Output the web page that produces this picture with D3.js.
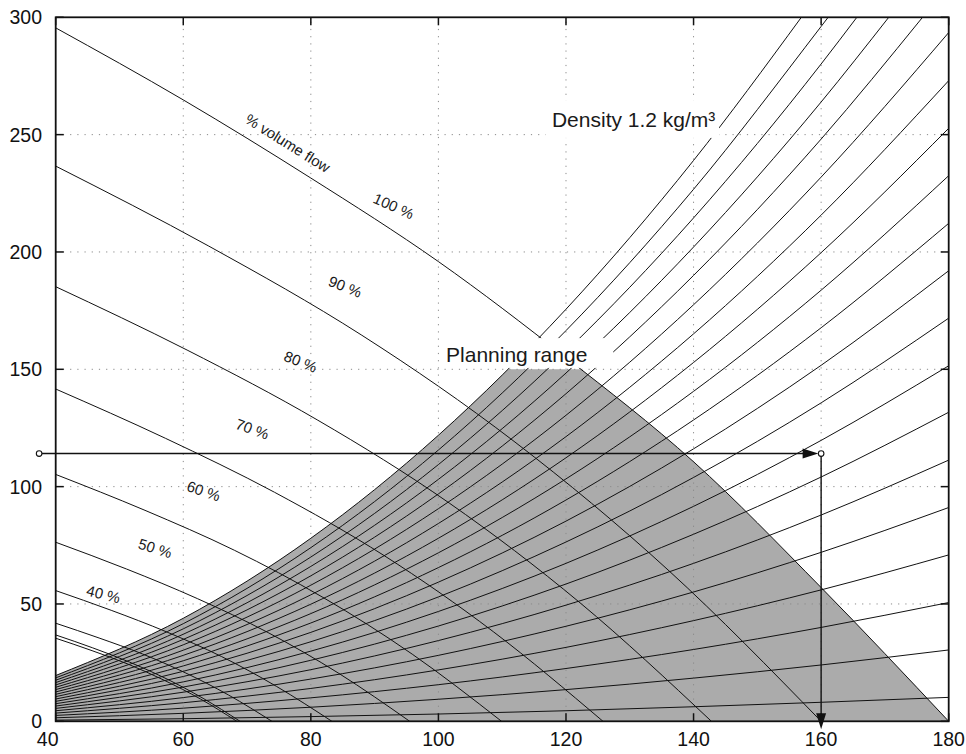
<!DOCTYPE html>
<html><head><meta charset="utf-8">
<script src="https://cdn.jsdelivr.net/npm/d3@7"></script>
<style>
body{margin:0;background:#fff;}
svg{display:block;font-family:"Liberation Sans",Arial,Helvetica,sans-serif;}
</style>
</head><body>
<svg id="chart" width="966" height="754"></svg>
<script>
// ---------------- data ----------------
const xTicks = [40, 60, 80, 100, 120, 140, 160, 180];
const yTicks = [0, 50, 100, 150, 200, 250, 300];

// descending "% volume flow" curves  [x, pressure]
const flowLabels = ["100 %", "90 %", "80 %", "70 %", "60 %", "50 %", "40 %", "30 %", "20 %", "10 %"];
const flow100 = [[40,295.5],[60,264.8],[80,231.5],[100,195.9],[120,155],[140,110.6],[160,57],[180,0]];
const flow90  = [[40,236.6],[64,202.5],[88,164.5],[112,119],[136,64.5],[160,0]];
const flow80  = [[40,185.2],[60.6,158.2],[81.1,128.3],[101.7,93],[122.2,50.5],[142.8,0]];
const flow70  = [[40,141.6],[57.2,120.6],[74.3,97.6],[91.5,70.6],[108.6,38.2],[125.8,0]];
const flow60  = [[40,105.2],[54,89.9],[68,72.9],[81.9,52.8],[95.9,28.6],[109.9,0]];
const flow50  = [[40,76.3],[51.1,64.9],[62.2,52.3],[73.3,37.8],[84.4,20.4],[95.5,0]];
const flow40  = [[40,55.7],[48.7,47.3],[57.3,38.2],[66,27.6],[74.6,14.9],[83.3,0]];
const flow30  = [[40,41.8],[46.8,35.5],[53.6,28.7],[60.3,20.7],[67.1,11.2],[73.9,0]];
const flow20  = [[40,36.8],[45.8,31.3],[51.6,25.2],[57.3,18.2],[63.1,9.8],[68.9,0]];
const flow10  = [[40,35.4],[45.7,30.1],[51.4,24.3],[57,17.5],[62.7,9.5],[68.4,0]];
const flowCurves = [flow100, flow90, flow80, flow70, flow60, flow50, flow40, flow30, flow20, flow10];

// rising system curves [x, pressure]
const systemCurves = [
 [[40,0.5],[60,1.1],[80,2.0],[100,3.1],[120,4.5],[140,6.2],[160,8.1],[180,10.2]],
 [[40,1.5],[60,3.4],[80,6.0],[100,9.4],[120,13.5],[140,18.4],[160,24.0],[180,30.4]],
 [[40,2.5],[60,5.6],[80,10.0],[100,15.6],[120,22.5],[140,30.6],[160,40.0],[180,50.6]],
 [[40,3.5],[60,7.9],[80,14.0],[100,21.9],[120,31.5],[140,42.9],[160,56.0],[180,70.9]],
 [[40,4.5],[60,10.1],[80,18.0],[100,28.1],[120,40.5],[140,55.1],[160,72.0],[180,91.1]],
 [[40,5.5],[60,12.4],[80,22.0],[100,34.4],[120,49.5],[140,67.3],[160,87.9],[180,111.3]],
 [[40,6.5],[60,14.6],[80,26.0],[100,40.6],[120,58.5],[140,79.7],[160,104.1],[180,131.7]],
 [[40,7.5],[60,16.8],[80,29.9],[100,46.8],[120,67.3],[140,91.6],[160,119.7],[180,151.5]],
 [[40,8.5],[60,19.1],[80,33.9],[100,53.0],[120,76.4],[140,103.9],[160,135.7],[180,171.8]],
 [[40,9.5],[60,21.3],[80,37.9],[100,59.3],[120,85.3],[140,116.1],[160,151.7],[180,192.0]],
 [[40,10.5],[60,23.6],[80,41.9],[100,65.5],[120,94.3],[140,128.4],[160,167.7],[180,212.2]],
 [[40,11.5],[60,25.8],[80,45.9],[100,71.8],[120,103.3],[140,140.6],[160,183.7],[180,232.5]],
 [[40,12.5],[60,28.1],[80,49.9],[100,78.0],[120,112.3],[140,152.9],[160,199.7],[180,252.7]],
 [[40,13.5],[60,30.3],[80,53.9],[100,84.3],[120,121.3],[140,165.1],[160,215.7],[180,273.0]],
 [[40,14.5],[60,32.6],[80,58.0],[100,90.6],[120,130.4],[140,177.5],[160,231.9],[180,293.5]],
 [[40,15.5],[60,34.9],[80,62.0],[100,96.9],[120,139.6],[140,190.0],[160,248.1],[175.9,300]],
 [[40,16.5],[60,37.1],[80,66.0],[100,103.1],[120,148.4],[140,202.1],[160,263.9],[170.6,300]],
 [[40,17.5],[60,39.4],[80,70.0],[100,109.4],[120,157.6],[140,214.5],[160,280.1],[165.6,300]],
 [[40,18.5],[60,41.6],[80,74.0],[100,115.6],[120,166.5],[140,226.7],[160,296.1],[161.1,300]],
 [[40,19.5],[60,43.9],[80,78.0],[100,121.9],[120,175.6],[140,239.0],[156.9,300]]
];

const planningRangeMax = 150;       // pressure cap of planning range
const designPoint = [160, 114.1];   // operating point
const designStartX = 37.4;          // start of the reading line
const titleDensity = "Density 1.2 kg/m\u00B3";
const titlePlanning = "Planning range";
const titleFlow = "% volume flow";

// ---------------- layout ----------------
const M = {left:55.7, right:948.7, top:17.3, bottom:721.3};
const x = d3.scaleLinear().domain([40,180]).range([M.left, M.right]);
const y = d3.scaleLinear().domain([0,300]).range([M.bottom, M.top]);
const svg = d3.select("#chart");
svg.append("rect").attr("width",966).attr("height",754).attr("fill","#fff");
const defs = svg.append("defs");

defs.append("clipPath").attr("id","plotClip").append("rect")
  .attr("x",M.left).attr("y",M.top).attr("width",M.right-M.left).attr("height",M.bottom-M.top);

const line = d3.line().x(d=>x(d[0])).y(d=>y(d[1])).curve(d3.curveMonotoneX);
const areaUnder = d3.area().x(d=>x(d[0])).y0(y(0)).y1(d=>y(d[1])).curve(d3.curveMonotoneX);

// planning range = below top system curve, below cap, below 100% curve
const topSys = systemCurves[systemCurves.length-1].concat([[180,300]]);
defs.append("clipPath").attr("id","underTop").append("path").attr("d", areaUnder(topSys));
defs.append("clipPath").attr("id","underCap").append("rect")
  .attr("x",M.left).attr("y",y(planningRangeMax)).attr("width",M.right-M.left)
  .attr("height",y(0)-y(planningRangeMax));

svg.append("g").attr("clip-path","url(#underTop)")
  .append("g").attr("clip-path","url(#underCap)")
  .append("path").attr("d", areaUnder(flowCurves[0])).attr("fill","#ababab");

// grid
const grid = svg.append("g").attr("stroke","#8a8a8a").attr("stroke-width",1).attr("stroke-dasharray","1.2,6");
xTicks.slice(1,-1).forEach(t=>{
  grid.append("line").attr("x1",x(t)).attr("x2",x(t)).attr("y1",y(0)).attr("y2",y(300));
});
yTicks.slice(1,-1).forEach(t=>{
  grid.append("line").attr("y1",y(t)).attr("y2",y(t)).attr("x1",x(40)).attr("x2",x(180));
});

// curves
const curves = svg.append("g").attr("clip-path","url(#plotClip)")
  .attr("fill","none").attr("stroke","#111").attr("stroke-width",1);
systemCurves.forEach(c=>curves.append("path").attr("d", line(c)));
flowCurves.forEach(c=>curves.append("path").attr("d", line(c)));

// annotation boxes + texts
function boxText(txt, tx, ty, bx0, bx1, by0, by1){
  svg.append("rect").attr("x",x(bx0)).attr("y",y(by1))
    .attr("width",x(bx1)-x(bx0)).attr("height",y(by0)-y(by1)).attr("fill","#fff");
  svg.append("text").attr("x",x(tx)).attr("y",y(ty)).attr("font-size",21)
    .attr("fill","#1a1a1a").text(txt);
}
boxText(titlePlanning, 101.2, 153.1, 100.6, 127.4, 150.6, 163.3);
boxText(titleDensity, 117.8, 253.2, 116.8, 144.0, 248.6, 264.4);

// curve labels
const labelPlaces = [
  [titleFlow, 76.4, 246.4, 32],
  [flowLabels[0], 93.0, 219.6, 24],
  [flowLabels[1], 85.4, 185.3, 22],
  [flowLabels[2], 78.4, 153.3, 22],
  [flowLabels[3], 70.85, 124.6, 20],
  [flowLabels[4], 63.2, 98.2, 19],
  [flowLabels[5], 55.6, 73.8, 17],
  [flowLabels[6], 47.5, 54.2, 14]
];
labelPlaces.forEach(([t,lx,ly,a])=>{
  const cx=x(lx), cy=y(ly);
  svg.append("text").attr("x",cx).attr("y",cy).attr("text-anchor","middle")
    .attr("dominant-baseline","central").attr("font-size",15).attr("fill","#1a1a1a")
    .attr("transform",`rotate(${a},${cx},${cy})`).text(t);
});

// reading arrows
const px = x(designPoint[0]), py = y(designPoint[1]);
const arr = svg.append("g");
arr.append("line").attr("x1",x(designStartX)).attr("x2",px-18).attr("y1",py).attr("y2",py)
  .attr("stroke","#111").attr("stroke-width",1.4);
arr.append("path").attr("d",`M${px-2.8},${py} L${px-18.5},${py-5} L${px-18.5},${py+5} Z`).attr("fill","#111");
arr.append("line").attr("x1",px).attr("x2",px).attr("y1",py).attr("y2",y(0)-6)
  .attr("stroke","#111").attr("stroke-width",1.4);
arr.append("path").attr("d",`M${px},${y(0)+8} L${px-5},${y(0)-8} L${px+5},${y(0)-8} Z`).attr("fill","#111");
[[designStartX, designPoint[1]], designPoint].forEach(p=>{
  arr.append("circle").attr("cx",x(p[0])).attr("cy",y(p[1])).attr("r",2.8)
    .attr("fill","#fff").attr("stroke","#111").attr("stroke-width",1.1);
});

// frame + ticks
const ax = svg.append("g").attr("stroke","#111");
ax.append("rect").attr("x",M.left).attr("y",M.top).attr("width",M.right-M.left).attr("height",M.bottom-M.top)
  .attr("fill","none").attr("stroke-width",1.8);
xTicks.forEach(t=>{
  ax.append("line").attr("x1",x(t)).attr("x2",x(t)).attr("y1",y(0)).attr("y2",y(0)-8).attr("stroke-width",1.5);
  ax.append("line").attr("x1",x(t)).attr("x2",x(t)).attr("y1",y(300)).attr("y2",y(300)+8).attr("stroke-width",1.5);
});
yTicks.forEach(t=>{
  ax.append("line").attr("y1",y(t)).attr("y2",y(t)).attr("x1",x(40)).attr("x2",x(40)+8).attr("stroke-width",1.5);
  ax.append("line").attr("y1",y(t)).attr("y2",y(t)).attr("x1",x(180)).attr("x2",x(180)-8).attr("stroke-width",1.5);
});

// tick labels
const tl = svg.append("g").attr("font-size",19.5).attr("fill","#111");
xTicks.forEach((t,i)=>{
  tl.append("text").attr("x",x(t)+(i===0?-8:0)).attr("y",y(0)+18).attr("text-anchor","middle")
    .attr("dominant-baseline","central").text(t);
});
yTicks.forEach(t=>{
  tl.append("text").attr("x",42).attr("y",y(t)).attr("text-anchor","end")
    .attr("dominant-baseline","central").text(t);
});
</script>
</body></html>
